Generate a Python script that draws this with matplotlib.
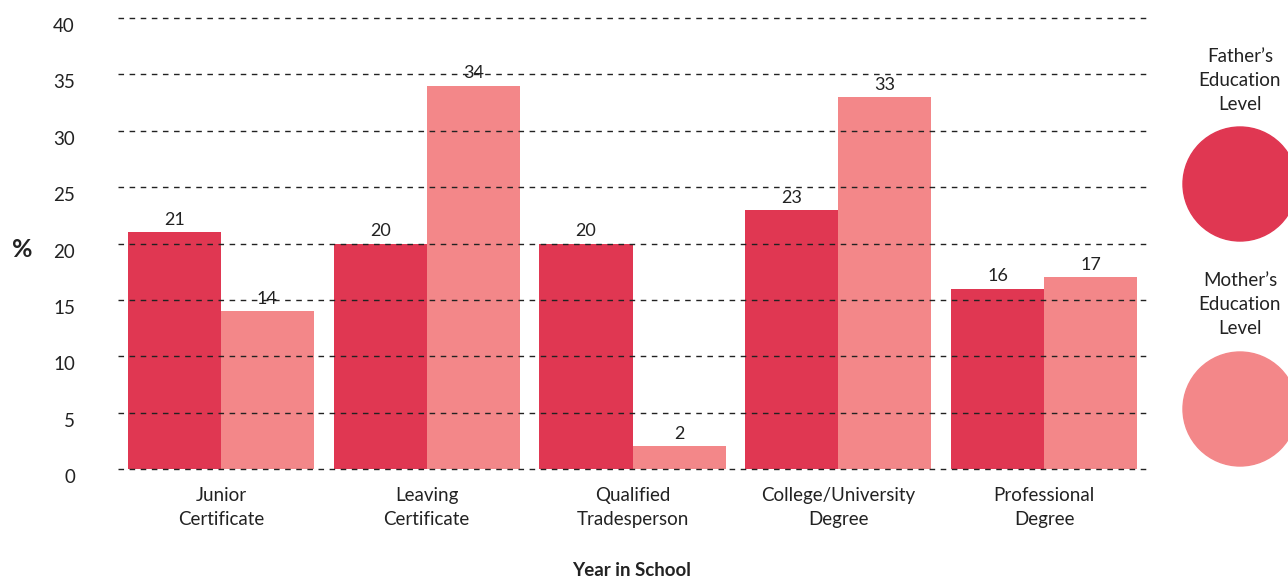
import numpy as np
import matplotlib
matplotlib.use("Agg")
import matplotlib.pyplot as plt
from matplotlib.patches import Circle

plt.rcParams['font.family'] = ['Lato', 'DejaVu Sans']

# --- data ---
categories = ["Junior\nCertificate", "Leaving\nCertificate", "Qualified\nTradesperson",
              "College/University\nDegree", "Professional\nDegree"]
father = [21, 20, 20, 23, 16]
mother = [14, 34, 2, 33, 17]
series_names = ["Father\u2019s\nEducation\nLevel", "Mother\u2019s\nEducation\nLevel"]
yticks = [0, 5, 10, 15, 20, 25, 30, 35, 40]

father_col = "#E03752"
mother_col = "#F38789"
text_col = "#222222"
fs = 13.5

fig = plt.figure(figsize=(12.88, 5.78), dpi=100)
ax = fig.add_axes([118 / 1288, 109 / 578, 1029 / 1288, 451 / 578])

x = np.arange(len(categories))
w = 0.452
b1 = ax.bar(x - w / 2, father, width=w, color=father_col, zorder=1)
b2 = ax.bar(x + w / 2, mother, width=w, color=mother_col, zorder=1)
ax.bar_label(b1, padding=3, fontsize=13, color=text_col)
ax.bar_label(b2, padding=3, fontsize=13, color=text_col)

# dashed gridlines sit over the bars
for yv in yticks:
    ax.axhline(yv, color="#222222", lw=1.0, ls=(0, (4, 4)), zorder=3, clip_on=False)

ax.set_xlim(-0.5, len(categories) - 0.5)
ax.set_ylim(0, 40)
ax.set_yticks(yticks)
ax.set_yticklabels([str(v) for v in yticks], fontsize=fs, color=text_col, va="top")
ax.set_xticks(x)
ax.set_xticklabels(categories, fontsize=fs, color=text_col, linespacing=1.5)
ax.tick_params(length=0)
ax.tick_params(axis='y', pad=31)
ax.tick_params(axis='x', pad=13)
for s in ax.spines.values():
    s.set_visible(False)

fig.text(632 / 1288, 1 - 570 / 578, "Year in School", fontsize=fs, fontweight="bold",
         color=text_col, ha="center", va="center")
fig.text(22 / 1288, 1 - 249 / 578, "%", fontsize=18, fontweight="bold", color=text_col,
         ha="center", va="center")

# legend: labels above filled circles on the right edge
lg = fig.add_axes([0, 0, 1, 1], zorder=5)
lg.set_xlim(0, 1288)
lg.set_ylim(578, 0)
lg.axis("off")
for name, col, ty, cy in [(series_names[0], father_col, 80, 184),
                          (series_names[1], mother_col, 305, 409)]:
    lg.text(1240, ty, name, fontsize=fs, color=text_col, ha="center", va="center",
            linespacing=1.5)
    lg.add_patch(Circle((1240, cy), 57, color=col, clip_on=False))

fig.savefig("out.png", dpi=100)
